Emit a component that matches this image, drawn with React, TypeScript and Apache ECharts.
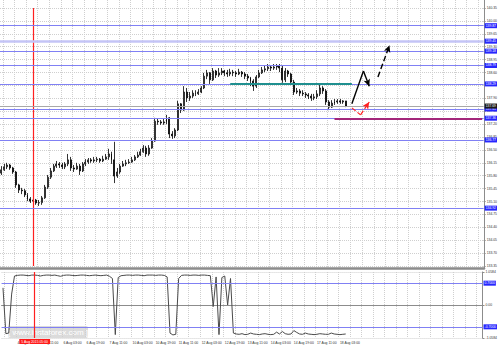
import React, { useEffect, useRef } from "react";
import * as echarts from "echarts";

// OHLC per 2-hour bar: [open, close, low, high]
const candles: number[][] = [
  [135.87,135.96,135.82,136.06],[135.96,136.04,135.93,136.12],[136.04,136.09,135.98,136.15],[136.09,136.01,135.96,136.12],
  [136.01,135.90,135.85,136.04],[135.90,135.55,135.47,135.93],[135.55,135.41,135.33,135.58],[135.41,135.39,135.30,135.47],
  [135.39,135.28,135.22,135.44],[135.28,135.17,135.11,135.33],[135.17,135.11,135.06,135.22],[135.11,135.14,135.03,135.22],
  [135.14,135.06,135.01,135.17],[135.06,135.07,134.98,135.14],[135.07,135.20,135.01,135.25],[135.20,135.49,135.17,135.55],
  [135.49,135.76,135.44,135.82],[135.76,135.93,135.71,136.01],[135.93,136.06,135.90,136.12],[136.06,136.12,136.01,136.20],
  [136.12,136.09,136.01,136.17],[136.09,136.04,135.98,136.15],[136.04,136.12,135.98,136.17],[136.12,136.23,136.06,136.39],
  [136.23,136.01,135.93,136.31],[136.01,135.98,135.90,136.09],[135.98,136.06,135.96,136.15],[136.06,135.93,135.82,136.12],
  [135.93,136.12,135.90,136.17],[136.12,136.17,136.06,136.25],[136.17,136.23,136.12,136.28],[136.23,136.20,136.15,136.28],
  [136.20,136.23,136.15,136.31],[136.23,136.25,136.17,136.31],[136.25,136.20,136.15,136.28],[136.20,136.25,136.17,136.34],
  [136.25,136.31,136.23,136.39],[136.31,136.39,136.23,136.53],[136.39,136.23,136.12,136.45],[136.23,135.79,135.60,136.72],
  [135.79,135.90,135.74,136.01],[135.90,136.06,135.85,136.12],[136.06,136.12,136.04,136.20],[136.12,136.15,136.06,136.23],
  [136.15,136.17,136.12,136.25],[136.17,136.23,136.15,136.31],[136.23,136.31,136.20,136.36],[136.31,136.36,136.28,136.45],
  [136.36,136.45,136.34,136.53],[136.45,136.55,136.42,136.63],[136.55,136.39,136.31,136.61],[136.39,136.55,136.34,136.63],
  [136.55,136.74,136.53,136.82],[136.74,137.28,136.72,137.37],[137.28,137.26,137.18,137.34],[137.26,137.23,137.18,137.31],
  [137.23,137.26,137.18,137.34],[137.26,137.37,137.20,137.45],[137.37,136.93,136.82,137.39],[136.93,136.88,136.80,137.01],
  [136.88,137.04,136.82,137.09],[137.04,137.75,137.01,137.83],[137.75,137.58,137.50,137.77],[137.58,138.07,137.56,138.23],
  [138.07,137.91,137.80,138.18],[137.91,137.96,137.83,138.07],[137.96,138.04,137.91,138.12],[138.04,138.02,137.96,138.12],
  [138.02,138.07,137.99,138.15],[138.07,138.18,138.04,138.23],[138.18,138.50,138.15,138.59],[138.50,138.59,138.42,138.67],
  [138.59,138.40,138.29,138.61],[138.40,138.64,138.37,138.72],[138.64,138.53,138.45,138.67],[138.53,138.59,138.48,138.72],
  [138.59,138.64,138.53,138.72],[138.64,138.59,138.50,138.67],[138.59,138.56,138.48,138.67],[138.56,138.61,138.50,138.70],
  [138.61,138.59,138.50,138.67],[138.59,138.56,138.48,138.64],[138.56,138.61,138.53,138.70],[138.61,138.56,138.48,138.64],
  [138.56,138.50,138.42,138.61],[138.50,138.45,138.37,138.56],[138.45,138.37,138.23,138.48],[138.37,138.23,138.10,138.42],
  [138.23,138.48,138.18,138.53],[138.48,138.59,138.45,138.67],[138.59,138.67,138.56,138.75],[138.67,138.70,138.61,138.78],
  [138.70,138.75,138.64,138.83],[138.75,138.72,138.64,138.80],[138.72,138.75,138.67,138.83],[138.75,138.78,138.67,138.83],
  [138.78,138.72,138.61,138.83],[138.72,138.40,138.32,138.78],[138.40,138.64,138.34,138.72],[138.64,138.56,138.48,138.67],
  [138.56,138.34,138.26,138.59],[138.34,138.07,137.99,138.40],[138.07,138.10,138.02,138.18],[138.10,138.04,137.96,138.15],
  [138.04,138.02,137.96,138.12],[138.02,137.99,137.91,138.07],[137.99,137.96,137.88,138.04],[137.96,137.91,137.83,138.02],
  [137.91,137.94,137.85,138.02],[137.94,138.02,137.88,138.12],[138.02,138.18,137.96,138.29],[138.18,138.10,138.02,138.23],
  [138.10,137.80,137.72,138.15],[137.80,137.66,137.58,137.85],[137.66,137.77,137.64,137.85],[137.77,137.80,137.72,137.88],
  [137.80,137.83,137.75,137.88],[137.83,137.80,137.75,137.88],[137.80,137.83,137.75,137.85],[137.83,137.69,137.66,137.83],
];

// oscillator in the lower window
const oscillator: number[] = [
  0.55,-0.92,-0.9,0.35,0.93,
  0.95,0.96,0.96,0.95,0.94,0.96,0.96,0.95,0.93,0.95,0.96,0.96,0.95,0.96,0.94,0.92,0.95,0.96,0.96,0.95,
  0.94,0.95,0.96,0.96,0.95,0.94,0.95,0.96,0.95,0.94,0.95,0.96,0.92,
  0.85,-0.95,0.88,
  0.94,0.95,0.96,0.96,0.95,0.96,0.96,0.95,0.94,0.96,0.96,0.96,0.95,0.96,0.96,0.95,
  0.9,-0.9,-0.96,-0.94,0.85,
  0.95,0.96,0.96,0.95,0.96,0.96,0.95,0.96,0.96,0.95,
  0.94,-0.05,0.9,-0.95,0.88,0.93,0.0,0.85,-0.9,
  -0.93,-0.94,-0.92,-0.95,-0.94,-0.9,-0.93,-0.94,-0.95,-0.93,-0.92,-0.94,-0.95,-0.94,-0.87,
  -0.93,-0.85,-0.92,-0.94,-0.93,-0.82,-0.88,-0.93,-0.94,-0.9,-0.93,-0.94,-0.95,-0.94,-0.92,
  -0.93,-0.94,-0.94,-0.9,-0.93,-0.94,-0.95,-0.94,-0.93,
];

const slotCount = 167;
const categories = Array.from({ length: slotCount }, (_, i) => String(i));

const timeLabelBars = [5, 13, 21, 29, 37, 45, 53, 61, 69, 77, 85, 93, 101, 109, 117];
const timeLabels = [
  "4 Aug 19:00", "5 Aug 11:00", "6 Aug 03:00", "6 Aug 19:00", "7 Aug 11:00",
  "10 Aug 03:00", "10 Aug 19:00", "11 Aug 11:00", "12 Aug 03:00", "12 Aug 19:00",
  "13 Aug 11:00", "14 Aug 03:00", "14 Aug 19:00", "17 Aug 11:00", "18 Aug 03:00",
];

const levels = [139.87, 139.18, 138.79, 138.29, 137.61, 137.36, 136.77, 134.92];
const thickLevels = [139.45];
const bidPrice = 137.69;
const oscLevels = [0.7, -0.7];
const redLineBar = 11;
const redLineLabel = "5 Aug 2015 05:00";

const tealSegment = [[79, 138.29], [121, 138.29]];
const magentaSegment = [[115, 137.34], [166, 137.34]];
const blackPath = [[121, 137.75], [125, 138.64], [127, 138.23]];
const blackDashed = [[130, 138.48], [134, 139.34]];
const redDashed = [[121, 137.64], [124, 137.45], [127, 137.8]];

const FS = 3.4;
const gridColor = "#cfcfcf";
const FONT = "Arial, Liberation Sans, sans-serif";
const LEVEL_BLUE = "#8080f4";

function segs(path: number[][], arrow: boolean) {
  const out: any[] = [];
  for (let i = 0; i < path.length - 1; i++) {
    const last = i === path.length - 2;
    out.push([
      { coord: path[i], symbol: "none" },
      { coord: path[i + 1], symbol: last && arrow ? "arrow" : "none", symbolSize: [5, 7] },
    ]);
  }
  return out;
}

function markSeries(grid: number, color: string, width: number, type: string, data: any[], label: any, z?: number) {
  return {
    type: "line",
    xAxisIndex: grid,
    yAxisIndex: grid,
    data: [],
    silent: true,
    z: z ?? 3,
    color,
    itemStyle: { color },
    lineStyle: { color },
    markLine: {
      silent: true,
      animation: false,
      symbol: ["none", "none"],
      lineStyle: { color, width, type, opacity: 1 },
      label: label || { show: false },
      emphasis: { disabled: true },
      data,
    },
  };
}

export default function App() {
  const ref = useRef<HTMLDivElement>(null);
  useEffect(() => {
    if (!ref.current) return;
    const chart = echarts.init(ref.current, undefined, { renderer: "svg" });
    const boxLabel = (bg: string, digits: number) => ({
      show: true,
      position: "end",
      distance: 1,
      formatter: (p: any) => Number(p.value).toFixed(digits),
      backgroundColor: bg,
      color: "#ffffff",
      fontSize: FS,
      padding: [1, 1],
      fontFamily: FONT,
    });
    const labelFmt = (_v: any, idx: number) => {
      const k = timeLabelBars.indexOf(idx);
      return k >= 0 ? timeLabels[k] : "";
    };
    const option: any = {
      animation: false,
      backgroundColor: "#ffffff",
      textStyle: { fontFamily: FONT },
      grid: [
        { left: 0, right: 16, top: 8, height: 258 },
        { left: 0, right: 16, top: 272, height: 66 },
        { left: 0, right: 16, top: 0, height: 268 },
      ],
      xAxis: [
        { type: "category", gridIndex: 0, data: categories, boundaryGap: true, axisLine: { show: false }, axisTick: { show: false }, axisLabel: { show: false }, splitLine: { show: false } },
        {
          type: "category", gridIndex: 1, data: categories, boundaryGap: true,
          axisLine: { show: true, lineStyle: { color: "#8c8c8c", width: 1 } },
          axisTick: { show: false },
          axisLabel: { show: true, interval: 0, formatter: labelFmt, fontSize: FS, color: "#333", align: "left", margin: 3 },
          splitLine: { show: true, interval: (i: number) => i % 4 === 1, lineStyle: { color: gridColor, type: "dotted", width: 1 } },
        },
        {
          type: "category", gridIndex: 2, data: categories, boundaryGap: true,
          axisLine: { show: true, onZero: false, lineStyle: { color: "#8c8c8c", width: 2.5 } },
          axisTick: { show: false }, axisLabel: { show: false },
          splitLine: { show: true, interval: (i: number) => i % 4 === 1, lineStyle: { color: gridColor, type: "dotted", width: 1 } },
        },
      ],
      yAxis: [
        {
          type: "value", gridIndex: 0, position: "right", min: 133.35, max: 140.35, interval: 0.35,
          axisLine: { show: false }, axisTick: { show: true, length: 2, lineStyle: { color: "#8c8c8c" } },
          axisLabel: { show: true, fontSize: FS, color: "#333", margin: 3, formatter: (v: number) => v.toFixed(2) },
          splitLine: { show: true, lineStyle: { color: gridColor, type: "dotted", width: 1 } },
        },
        {
          type: "value", gridIndex: 1, position: "right", min: -1.0584, max: 1.0584, interval: 1.0584,
          axisLine: { show: true, onZero: false, lineStyle: { color: "#8c8c8c" } }, axisTick: { show: true, length: 2 },
          axisLabel: { show: true, fontSize: FS, color: "#333", margin: 3, formatter: (v: number) => (Math.abs(v) < 1e-9 ? "0.00" : v.toFixed(4)) },
          splitLine: { show: true, lineStyle: { color: gridColor, type: "dotted", width: 1 } },
        },
        {
          type: "value", gridIndex: 2, position: "right", min: 0, max: 1,
          axisLine: { show: true, onZero: false, lineStyle: { color: "#8c8c8c", width: 1 } }, axisTick: { show: false },
          axisLabel: { show: false }, splitLine: { show: false },
        },
      ],
      series: [
        {
          type: "candlestick", xAxisIndex: 0, yAxisIndex: 0, data: candles, barMaxWidth: 1.8, z: 4,
          itemStyle: { color: "#ffffff", color0: "#000000", borderColor: "#000000", borderColor0: "#000000", borderWidth: 0.8 },
        },
        // red vertical line through the price window
        markSeries(0, "#ff2020", 1.2, "solid", [{ xAxis: redLineBar }], null, 2),
        markSeries(0, "#c4c4f6", 2.5, "solid", thickLevels.map((v) => ({ yAxis: v })), boxLabel("#2626ff", 2)),
        markSeries(0, LEVEL_BLUE, 1, "solid", levels.map((v) => ({ yAxis: v })), boxLabel("#2626ff", 2)),
        markSeries(0, "#a8a8a8", 1, "solid", [{ yAxis: bidPrice }], boxLabel("#1a1a1a", 2)),
        markSeries(0, "#1f8f8f", 2, "solid", [[{ coord: tealSegment[0] }, { coord: tealSegment[1] }]], null),
        markSeries(0, "#a3267a", 2, "solid", [[{ coord: magentaSegment[0] }, { coord: magentaSegment[1] }]], null),
        markSeries(0, "#000000", 1.4, "solid", segs(blackPath, true), null, 5),
        markSeries(0, "#000000", 1.4, "dashed", segs(blackDashed, true), null, 5),
        markSeries(0, "#ff2020", 1.2, "dashed", segs(redDashed, true), null, 5),
        {
          type: "line", xAxisIndex: 1, yAxisIndex: 1, data: oscillator, showSymbol: false,
          lineStyle: { color: "#4a4a4a", width: 1 }, itemStyle: { color: "#4a4a4a" },
        },
        markSeries(1, LEVEL_BLUE, 1, "solid", oscLevels.map((v) => ({ yAxis: v })), boxLabel("#2626ff", 4)),
        markSeries(1, "#ff2020", 1.2, "solid", [{ xAxis: redLineBar }], {
          show: true, position: "start", distance: 1, formatter: redLineLabel,
          backgroundColor: "#ff1a1a", color: "#ffffff", fontSize: FS, padding: [1, 2], fontFamily: FONT,
        }),
      ],
      graphic: [
        {
          type: "group", left: 8, top: 326, silent: true,
          children: [
            { type: "rect", shape: { x: 0, y: 0, width: 80, height: 12, r: 2 }, style: { fill: "rgba(175,175,175,0.45)" } },
            { type: "text", x: 40, y: 6, style: { text: "[ www.instaforex.com ]", fill: "#ffffff", fontSize: 8, fontFamily: FONT, align: "center", verticalAlign: "middle" } },
          ],
        },
      ],
    };
    chart.setOption(option);
    return () => chart.dispose();
  }, []);
  return <div ref={ref} style={{ position: "fixed", left: 0, top: 0, width: 500, height: 347, background: "#fff" }} />;
}
